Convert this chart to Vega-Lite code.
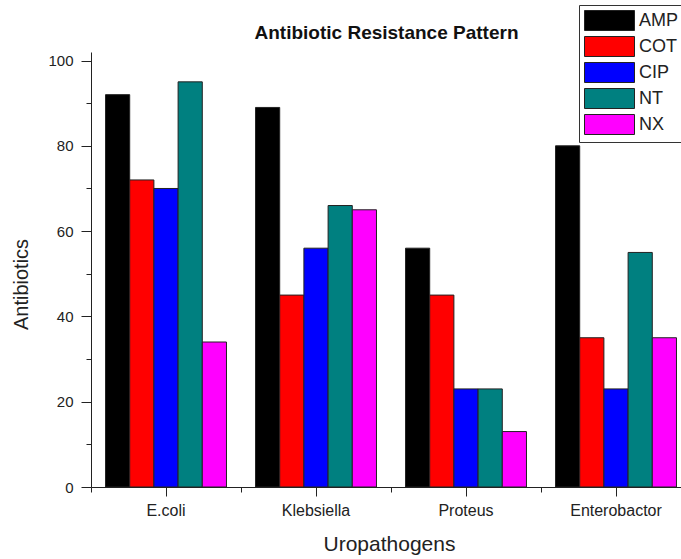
{
  "$schema": "https://vega.github.io/schema/vega-lite/v6.json",
  "autosize": "none",
  "width": 590,
  "height": 435,
  "padding": {"left": 91, "top": 52, "right": 0, "bottom": 72},
  "background": "white",
  "config": {
    "view": {"stroke": null},
    "font": "Liberation Sans"
  },
  "data": {
    "values": [
      {"Organism": "E.coli", "Antibiotic": "AMP", "Value": 92},
      {"Organism": "E.coli", "Antibiotic": "COT", "Value": 72},
      {"Organism": "E.coli", "Antibiotic": "CIP", "Value": 70},
      {"Organism": "E.coli", "Antibiotic": "NT", "Value": 95},
      {"Organism": "E.coli", "Antibiotic": "NX", "Value": 34},
      {"Organism": "Klebsiella", "Antibiotic": "AMP", "Value": 89},
      {"Organism": "Klebsiella", "Antibiotic": "COT", "Value": 45},
      {"Organism": "Klebsiella", "Antibiotic": "CIP", "Value": 56},
      {"Organism": "Klebsiella", "Antibiotic": "NT", "Value": 66},
      {"Organism": "Klebsiella", "Antibiotic": "NX", "Value": 65},
      {"Organism": "Proteus", "Antibiotic": "AMP", "Value": 56},
      {"Organism": "Proteus", "Antibiotic": "COT", "Value": 45},
      {"Organism": "Proteus", "Antibiotic": "CIP", "Value": 23},
      {"Organism": "Proteus", "Antibiotic": "NT", "Value": 23},
      {"Organism": "Proteus", "Antibiotic": "NX", "Value": 13},
      {"Organism": "Enterobactor", "Antibiotic": "AMP", "Value": 80},
      {"Organism": "Enterobactor", "Antibiotic": "COT", "Value": 35},
      {"Organism": "Enterobactor", "Antibiotic": "CIP", "Value": 23},
      {"Organism": "Enterobactor", "Antibiotic": "NT", "Value": 55},
      {"Organism": "Enterobactor", "Antibiotic": "NX", "Value": 35}
    ]
  },
  "resolve": {"axis": {"x": "independent"}},
  "layer": [
    {
      "mark": {"type": "bar", "stroke": "#222", "strokeWidth": 1},
      "encoding": {
        "x": {
          "field": "Organism",
          "type": "nominal",
          "sort": ["E.coli", "Klebsiella", "Proteus", "Enterobactor"],
          "scale": {"range": [0, 600], "paddingInner": 0, "paddingOuter": 0},
          "axis": {
            "orient": "bottom",
            "title": "Uropathogens",
            "titleFont": "Liberation Sans",
            "titleFontSize": 21,
            "titleFontWeight": "normal",
            "titleColor": "#222",
            "titlePadding": 15,
            "titleX": 298,
            "labelFont": "Liberation Sans",
            "labelFontSize": 16,
            "labelColor": "#222",
            "labelAngle": 0,
            "labelPadding": 6,
            "tickSize": 9,
            "tickColor": "#222",
            "domainColor": "#222",
            "domainWidth": 1,
            "grid": false
          }
        },
        "xOffset": {
          "field": "Antibiotic",
          "type": "nominal",
          "sort": ["AMP", "COT", "CIP", "NT", "NX"],
          "scale": {"paddingInner": 0, "paddingOuter": 0.6}
        },
        "y": {
          "field": "Value",
          "type": "quantitative",
          "scale": {"domain": [0, 102], "nice": false},
          "axis": {
            "title": "Antibiotics",
            "titleFont": "Liberation Sans",
            "titleFontSize": 20,
            "titleFontWeight": "normal",
            "titleColor": "#222",
            "titlePadding": 16,
            "titleY": 232,
            "values": [0, 10, 20, 30, 40, 50, 60, 70, 80, 90, 100],
            "labelExpr": "datum.value % 20 === 0 ? datum.label : ''",
            "labelFont": "Liberation Sans",
            "labelFontSize": 15,
            "labelColor": "#222",
            "labelPadding": 8,
            "tickSize": {"condition": {"test": "datum.value % 20 === 0", "value": 10}, "value": 5},
            "tickColor": "#222",
            "domainColor": "#222",
            "grid": false
          }
        },
        "color": {
          "field": "Antibiotic",
          "type": "nominal",
          "sort": ["AMP", "COT", "CIP", "NT", "NX"],
          "scale": {
            "domain": ["AMP", "COT", "CIP", "NT", "NX"],
            "range": ["#000000", "#ff0000", "#0000ff", "#008080", "#ff00ff"]
          },
          "legend": {
            "title": null,
            "orient": "none",
            "legendX": 488,
            "legendY": -47,
            "strokeColor": "#333",
            "fillColor": "white",
            "padding": 5,
            "symbolType": "M-1,-1H4V1H-1Z",
            "symbolSize": 400,
            "symbolStrokeColor": "#222",
            "symbolStrokeWidth": 1,
            "symbolOpacity": 1,
            "labelFont": "Liberation Sans",
            "labelFontSize": 18,
            "labelColor": "#222",
            "labelOffset": 34,
            "rowPadding": 1
          }
        }
      }
    },
    {
      "mark": {"type": "bar", "opacity": 0},
      "encoding": {
        "x": {
          "field": "Organism",
          "type": "nominal",
          "sort": ["E.coli", "Klebsiella", "Proteus", "Enterobactor"],
          "axis": {
            "orient": "bottom",
            "bandPosition": 0,
            "labels": false,
            "domain": false,
            "title": null,
            "tickSize": 5,
            "tickColor": "#222",
            "grid": false
          }
        },
        "y": {"field": "Value", "type": "quantitative"}
      }
    },
    {
      "mark": {"type": "bar", "opacity": 0},
      "encoding": {
        "x": {
          "field": "Organism",
          "type": "nominal",
          "sort": ["E.coli", "Klebsiella", "Proteus", "Enterobactor"],
          "axis": {
            "orient": "top",
            "labels": false,
            "ticks": false,
            "domain": false,
            "grid": false,
            "title": "Antibiotic Resistance Pattern",
            "titleFont": "Liberation Sans",
            "titleFontSize": 19,
            "titleFontWeight": "bold",
            "titleColor": "#111",
            "titleX": 295,
            "titleY": -14,
            "titleBaseline": "alphabetic",
            "titleAlign": "center"
          }
        },
        "y": {"field": "Value", "type": "quantitative"}
      }
    }
  ]
}
